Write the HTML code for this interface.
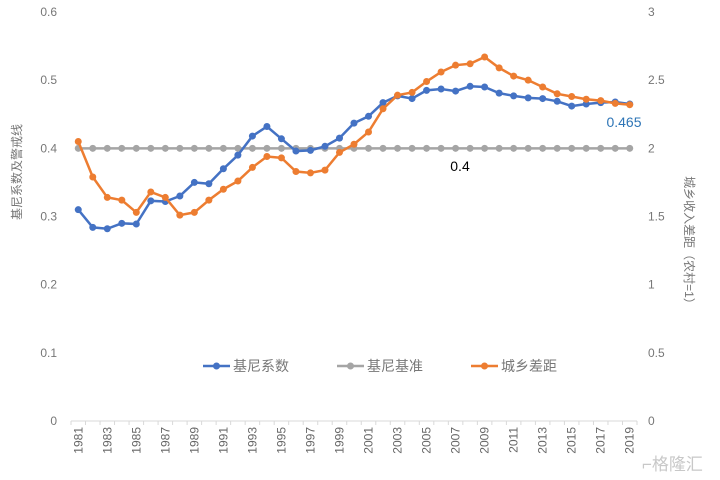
<!DOCTYPE html>
<html><head><meta charset="utf-8">
<style>
body{margin:0;background:#fff;}
svg{display:block;font-family:"Liberation Sans","Noto Sans CJK SC",sans-serif;}
</style></head>
<body>
<svg id="chart" width="720" height="480" viewBox="0 0 720 480"></svg>
<script>
const years=[];for(let y=1981;y<=2019;y++)years.push(y);
const giniValues=[0.31,0.284,0.282,0.29,0.289,0.323,0.322,0.33,0.35,0.348,0.37,0.39,0.418,0.432,0.414,0.396,0.397,0.403,0.415,0.437,0.447,0.467,0.477,0.473,0.485,0.487,0.484,0.491,0.49,0.481,0.477,0.474,0.473,0.469,0.462,0.465,0.467,0.468,0.465];
const baseValues=years.map(()=>0.4);
const gapValues=[2.05,1.79,1.64,1.62,1.53,1.68,1.64,1.51,1.53,1.62,1.70,1.76,1.86,1.94,1.93,1.83,1.82,1.84,1.97,2.03,2.12,2.29,2.39,2.41,2.49,2.56,2.61,2.62,2.67,2.59,2.53,2.50,2.45,2.40,2.38,2.36,2.35,2.33,2.32];
const leftTicks=["0","0.1","0.2","0.3","0.4","0.5","0.6"];
const rightTicks=["0","0.5","1","1.5","2","2.5","3"];
const NS="http://www.w3.org/2000/svg";
const svg=document.getElementById('chart');
const x0=71,x1=637,yBase=421,yTop=12;
const step=(x1-x0)/years.length;
const xs=i=>x0+step*(i+0.5);
const yl=v=>yBase-(v/0.6)*(yBase-yTop);
const yr=v=>yBase-(v/3)*(yBase-yTop);
function mk(t,a,p){const e=document.createElementNS(NS,t);for(const k in a)e.setAttribute(k,a[k]);(p||svg).appendChild(e);return e;}
const ax=mk('line',{x1:x0,y1:yBase,x2:x1,y2:yBase,stroke:'#d9d9d9','stroke-width':1});


for(let i=0;i<=years.length;i++){
 const t=mk('line',{x1:x0+step*i,y1:yBase,x2:x0+step*i,y2:yBase+4,stroke:'#d9d9d9'});
 
 
}
years.forEach((y,i)=>{
 if(i%2)return;
 const tx=mk('text',{x:0,y:0,transform:`translate(${xs(i)+4},${yBase+6}) rotate(-90)`,'text-anchor':'end','font-size':12,fill:'#666'});
 tx.textContent=y;
 
 
});
leftTicks.forEach((s,i)=>{
 const t=mk('text',{x:57,y:yl(i*0.1)+4,'text-anchor':'end','font-size':12,fill:'#777'});
 t.textContent=s;
 
 
});
rightTicks.forEach((s,i)=>{
 const t=mk('text',{x:648,y:yr(i*0.5)+4,'font-size':12,fill:'#777'});
 t.textContent=s;
 
 
});
const lt=mk('text',{x:0,y:0,transform:'translate(21,172) rotate(-90)','text-anchor':'middle','font-size':12,fill:'#777'});
lt.textContent='基尼系数及警戒线';


const rt=mk('text',{x:0,y:0,transform:'translate(685,243) rotate(90)','text-anchor':'middle','font-size':12,fill:'#777'});
rt.textContent='城乡收入差距（农村=1）';


function series(vals,yf,color,name){
 const g=mk('g',{});
 
 
 mk('polyline',{points:vals.map((v,i)=>xs(i)+','+yf(v)).join(' '),fill:'none',stroke:color,'stroke-width':2.5},g);
 vals.forEach((v,i)=>{
  const c=mk('circle',{cx:xs(i),cy:yf(v),r:3.5,fill:color},g);
  
  
 });
}
series(baseValues,yl,'#a5a5a5','gini-baseline-series');
series(giniValues,yl,'#4472c4','gini-series');
series(gapValues,yr,'#ed7d31','urban-rural-gap-series');
const l1=mk('text',{x:460,y:171,'text-anchor':'middle','font-size':14,fill:'#000'});
l1.textContent='0.4';


const l2=mk('text',{x:624,y:127,'text-anchor':'middle','font-size':14,fill:'#2e75b6'});
l2.textContent='0.465';


const legend=[['基尼系数','#4472c4',203],['基尼基准','#a5a5a5',337],['城乡差距','#ed7d31',471]];
legend.forEach(([s,c,x])=>{
 const g=mk('g',{});
 
 
 mk('line',{x1:x,y1:366,x2:x+27,y2:366,stroke:c,'stroke-width':2.5},g);
 mk('circle',{cx:x+13.5,cy:366,r:3.5,fill:c},g);
 const t=mk('text',{x:x+30,y:371,'font-size':14,fill:'#777'},g);
 t.textContent=s;
});
const w=mk('text',{x:642,y:470,'font-size':17,fill:'#c8c8c8'});
w.textContent='⌐格隆汇';


</script>
</body></html>
